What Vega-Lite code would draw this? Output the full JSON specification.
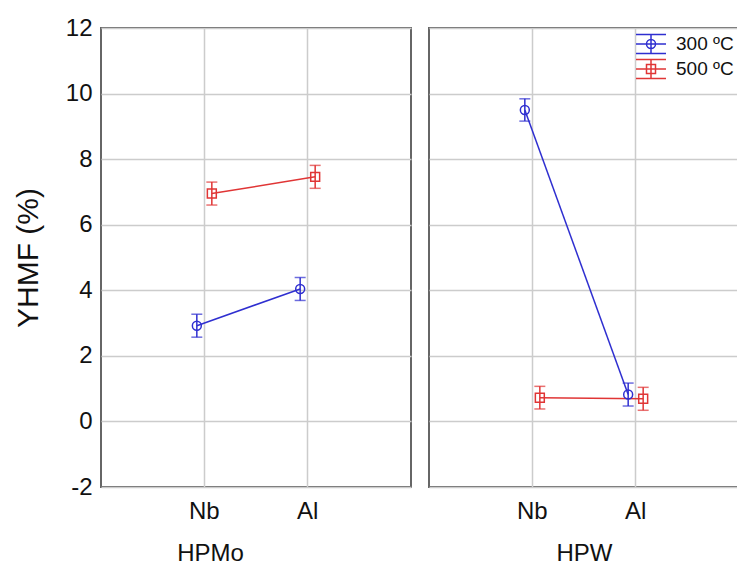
{
  "$schema": "https://vega.github.io/schema/vega-lite/v6.json",
  "padding": {"left": 12, "top": 15, "right": 0, "bottom": 0},
  "background": "white",
  "config": {
    "font": "Liberation Sans",
    "view": {"stroke": "#666666", "strokeWidth": 2},
    "legend": {"labelFont": "Liberation Sans"}
  },
  "datasets": {
    "yields": [
      {"catalyst": "HPMo", "metal": "Nb", "temp": "300 ºC", "y": 2.92, "lo": 2.57, "hi": 3.27},
      {"catalyst": "HPMo", "metal": "Al", "temp": "300 ºC", "y": 4.04, "lo": 3.69, "hi": 4.39},
      {"catalyst": "HPMo", "metal": "Nb", "temp": "500 ºC", "y": 6.95, "lo": 6.6, "hi": 7.3},
      {"catalyst": "HPMo", "metal": "Al", "temp": "500 ºC", "y": 7.46, "lo": 7.11, "hi": 7.81},
      {"catalyst": "HPW", "metal": "Nb", "temp": "300 ºC", "y": 9.5, "lo": 9.16, "hi": 9.84},
      {"catalyst": "HPW", "metal": "Al", "temp": "300 ºC", "y": 0.82, "lo": 0.47, "hi": 1.17},
      {"catalyst": "HPW", "metal": "Nb", "temp": "500 ºC", "y": 0.72, "lo": 0.38, "hi": 1.07},
      {"catalyst": "HPW", "metal": "Al", "temp": "500 ºC", "y": 0.69, "lo": 0.34, "hi": 1.04}
    ]
  },
  "spacing": 15,
  "resolve": {"scale": {"color": "independent", "shape": "independent"}, "legend": {"color": "independent", "shape": "independent"}},
  "hconcat": [
    {
      "width": 310,
      "height": 459,
      "data": {"name": "yields"},
      "transform": [{"filter": "datum.catalyst == 'HPMo'"}],
      "encoding": {
        "x": {
          "field": "metal", "type": "nominal", "sort": ["Nb", "Al"],
          "scale": {"paddingInner": 0.7097, "paddingOuter": 0.8548},
          "axis": {"title": "HPMo", "titleX": 109, "titleFontSize": 24, "titleFontWeight": "normal", "titleColor": "#111111", "titlePadding": 18, "labelAngle": 0, "labelFontSize": 24, "labelColor": "#111111", "tickSize": 0, "labelPadding": 12, "domain": false, "grid": true, "gridColor": "#cccccc", "gridWidth": 1.5, "bandPosition": 0.5}
        },
        "xOffset": {"field": "temp", "type": "nominal", "sort": ["300 ºC", "500 ºC"], "scale": {"paddingInner": 0, "paddingOuter": 0}},
        "color": {
          "field": "temp", "type": "nominal",
          "scale": {"domain": ["300 ºC", "500 ºC"], "range": ["#2f2fd0", "#e03535"]},
          "legend": null
        }
      },
      "layer": [
        {
          "mark": {"type": "line", "strokeWidth": 1.5},
          "encoding": {
            "y": {
              "field": "y", "type": "quantitative",
              "scale": {"domain": [-2, 12], "nice": false, "zero": false},
              "axis": {"title": "YHMF (%)", "titleFontSize": 30, "titleFontWeight": "normal", "titleColor": "#111111", "titlePadding": 22, "labelFontSize": 24, "labelColor": "#111111", "values": [-2, 0, 2, 4, 6, 8, 10, 12], "labelExpr": "replace(datum.label, '−', '-')", "tickSize": 0, "labelPadding": 9, "domain": false, "grid": true, "gridColor": "#cccccc", "gridWidth": 1.5}
            }
          }
        },
        {
          "mark": {"type": "rule", "strokeWidth": 1.5},
          "encoding": {"y": {"field": "lo", "type": "quantitative"}, "y2": {"field": "hi"}}
        },
        {
          "mark": {"type": "tick", "size": 11, "thickness": 1.5, "orient": "horizontal"},
          "encoding": {"y": {"field": "lo", "type": "quantitative"}}
        },
        {
          "mark": {"type": "tick", "size": 11, "thickness": 1.5, "orient": "horizontal"},
          "encoding": {"y": {"field": "hi", "type": "quantitative"}}
        },
        {
          "mark": {"type": "point", "filled": false, "strokeWidth": 1.5, "size": 80, "opacity": 1},
          "encoding": {
            "y": {"field": "y", "type": "quantitative"},
            "shape": {"field": "temp", "type": "nominal", "scale": {"domain": ["300 ºC", "500 ºC"], "range": ["circle", "square"]}, "legend": null}
          }
        }
      ]
    },
    {
      "width": 310,
      "height": 459,
      "data": {"name": "yields"},
      "transform": [{"filter": "datum.catalyst == 'HPW'"}],
      "resolve": {"scale": {"color": "independent", "shape": "independent"}, "legend": {"color": "independent", "shape": "independent"}},
      "encoding": {
        "x": {
          "field": "metal", "type": "nominal", "sort": ["Nb", "Al"],
          "scale": {"paddingInner": 0.7097, "paddingOuter": 0.8548},
          "axis": {"title": "HPW", "titleFontSize": 24, "titleFontWeight": "normal", "titleColor": "#111111", "titlePadding": 18, "labelAngle": 0, "labelFontSize": 24, "labelColor": "#111111", "tickSize": 0, "labelPadding": 12, "domain": false, "grid": true, "gridColor": "#cccccc", "gridWidth": 1.5, "bandPosition": 0.5}
        },
        "xOffset": {"field": "temp", "type": "nominal", "sort": ["300 ºC", "500 ºC"], "scale": {"paddingInner": 0, "paddingOuter": 0}}
      },
      "layer": [
        {
          "mark": {"type": "line", "strokeWidth": 1.5},
          "encoding": {
            "y": {
              "field": "y", "type": "quantitative",
              "scale": {"domain": [-2, 12], "nice": false, "zero": false},
              "axis": {"title": null, "labels": false, "values": [-2, 0, 2, 4, 6, 8, 10, 12], "tickSize": 0, "domain": false, "grid": true, "gridColor": "#cccccc", "gridWidth": 1.5}
            },
            "color": {"field": "temp", "type": "nominal", "scale": {"domain": ["300 ºC", "500 ºC"], "range": ["#2f2fd0", "#e03535"]}, "legend": null}
          }
        },
        {
          "mark": {"type": "rule", "strokeWidth": 1.5},
          "encoding": {"y": {"field": "lo", "type": "quantitative"}, "y2": {"field": "hi"}, "color": {"field": "temp", "type": "nominal", "scale": {"domain": ["300 ºC", "500 ºC"], "range": ["#2f2fd0", "#e03535"]}, "legend": null}}
        },
        {
          "mark": {"type": "tick", "size": 11, "thickness": 1.5, "orient": "horizontal"},
          "encoding": {"y": {"field": "lo", "type": "quantitative"}, "color": {"field": "temp", "type": "nominal", "scale": {"domain": ["300 ºC", "500 ºC"], "range": ["#2f2fd0", "#e03535"]}, "legend": null}}
        },
        {
          "mark": {"type": "tick", "size": 11, "thickness": 1.5, "orient": "horizontal"},
          "encoding": {"y": {"field": "hi", "type": "quantitative"}, "color": {"field": "temp", "type": "nominal", "scale": {"domain": ["300 ºC", "500 ºC"], "range": ["#2f2fd0", "#e03535"]}, "legend": null}}
        },
        {
          "mark": {"type": "point", "filled": false, "strokeWidth": 1.5, "size": 80, "opacity": 1},
          "encoding": {
            "y": {"field": "y", "type": "quantitative"},
            "color": {"field": "temp", "type": "nominal", "scale": {"domain": ["300 ºC", "500 ºC"], "range": ["#2f2fd0", "#e03535"]}, "legend": null},
            "shape": {"field": "temp", "type": "nominal", "scale": {"domain": ["300 ºC", "500 ºC"], "range": ["circle", "square"]}, "legend": null}
          }
        },
        {
          "mark": {"type": "point", "filled": false, "strokeWidth": 1.5, "size": 0, "opacity": 1},
          "encoding": {
            "y": {"field": "y", "type": "quantitative"},
            "color": {
              "field": "temp", "type": "nominal",
              "scale": {"domain": ["300 ºC", "500 ºC"], "range": ["#2f2fd0", "#e03535"]},
              "legend": {"title": null, "orient": "none", "legendX": 211, "legendY": 5, "padding": 0, "labelFontSize": 19, "labelColor": "#111111", "symbolSize": 400, "symbolStrokeWidth": 1.5, "labelOffset": 14, "rowPadding": -1}
            },
            "shape": {
              "field": "temp", "type": "nominal",
              "scale": {"domain": ["300 ºC", "500 ºC"], "range": ["M-1.5,-0.95H1.5M-1.5,0H1.5M-1.5,0.95H1.5M0,-0.95V0.95M0.45,0A0.45,0.45,0,1,1,-0.45,0A0.45,0.45,0,1,1,0.45,0", "M-1.5,-0.95H1.5M-1.5,0H1.5M-1.5,0.95H1.5M0,-0.95V0.95M-0.45,-0.45H0.45V0.45H-0.45Z"]},
              "legend": {"title": null, "orient": "none", "legendX": 211, "legendY": 5, "padding": 0, "labelFontSize": 19, "labelColor": "#111111", "symbolSize": 400, "symbolStrokeWidth": 1.5, "labelOffset": 14, "rowPadding": -1}
            }
          }
        }
      ]
    }
  ]
}
